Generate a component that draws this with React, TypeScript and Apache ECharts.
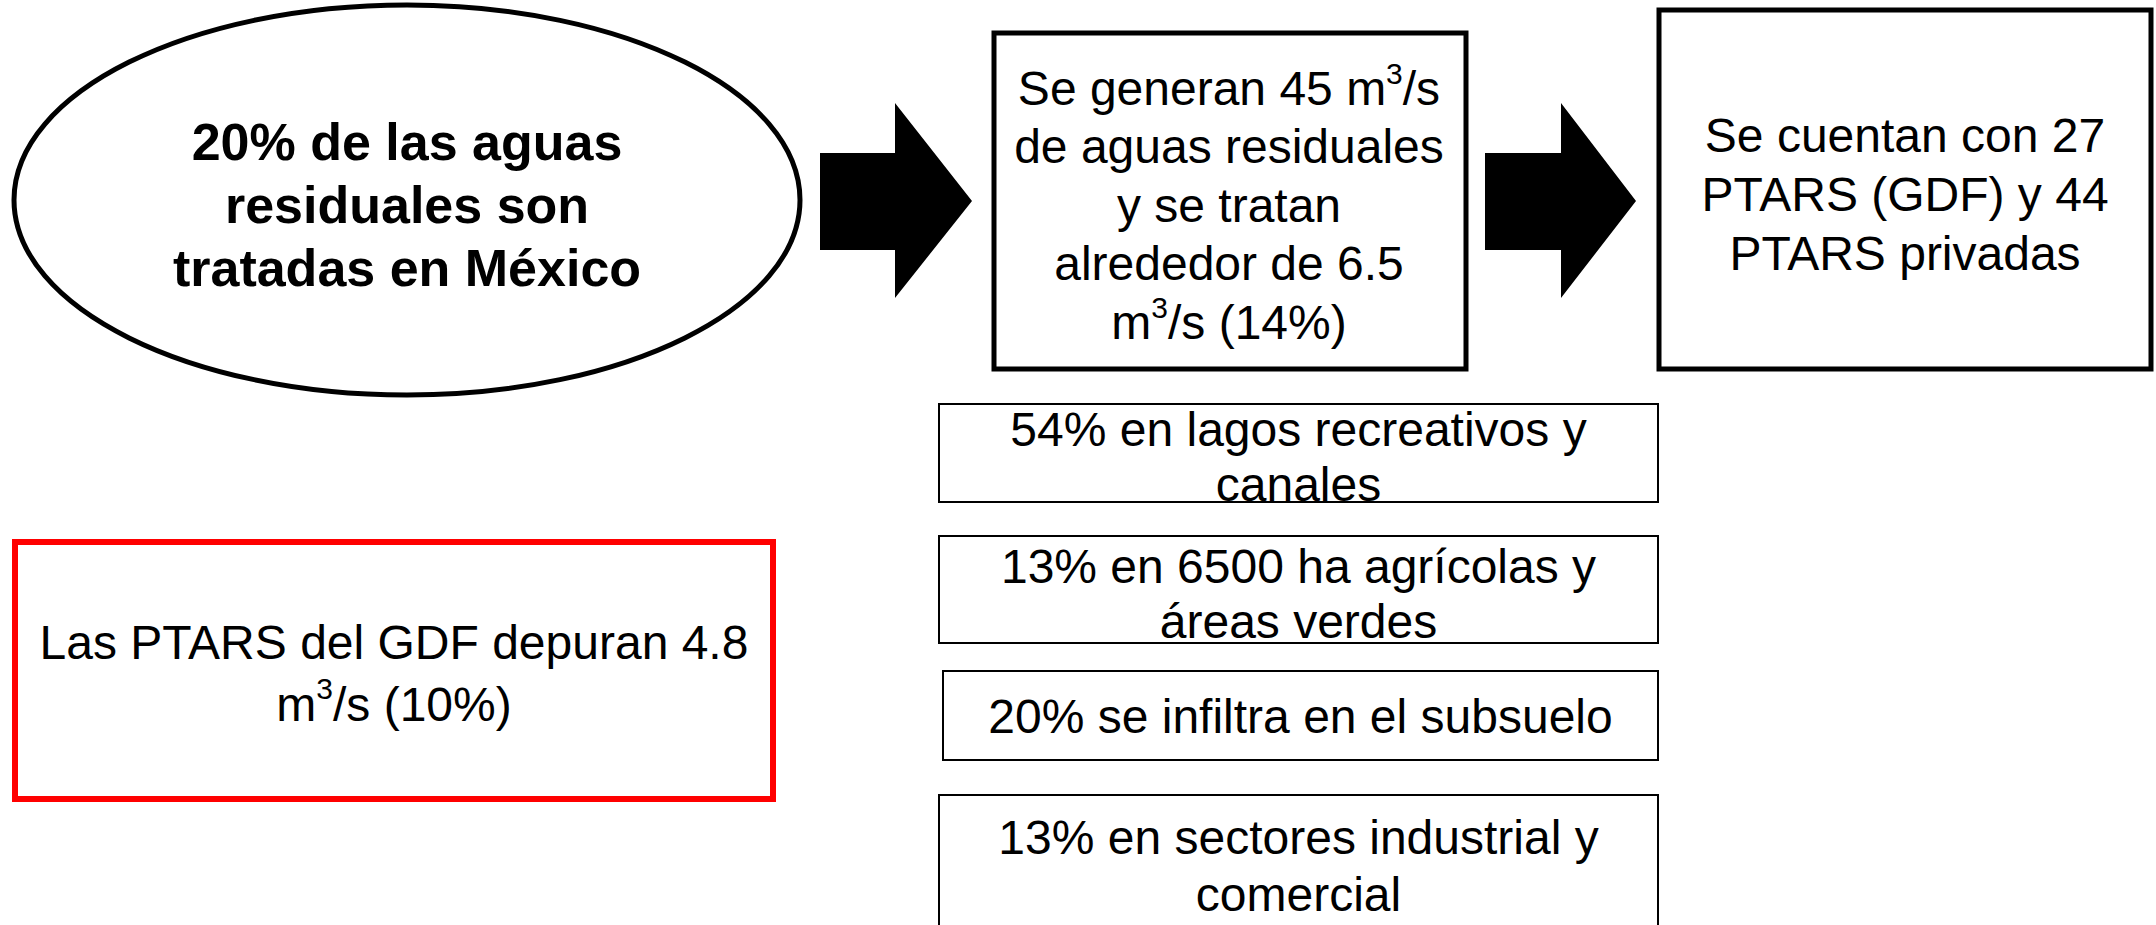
import React, { useEffect, useRef } from "react";
import * as echarts from "echarts";

// Texts of the diagram ({sup|3} marks a superscript 3)
const ellipseLines = ["20% de las aguas", "residuales son", "tratadas en México"];
const generatedLines = ["Se generan 45 m{sup|3}/s", "de aguas residuales", "y se tratan", "alrededor de 6.5", "m{sup|3}/s (14%)"];
const plantsLines = ["Se cuentan con 27", "PTARS (GDF) y 44", "PTARS privadas"];
const gdfLines = ["Las PTARS del GDF depuran 4.8", "m{sup|3}/s (10%)"];
const usesLines = [
  ["54% en lagos recreativos y", "canales"],
  ["13% en 6500 ha agrícolas y", "áreas verdes"],
  ["20% se infiltra en el subsuelo"],
  ["13% en sectores industrial y", "comercial"],
];

// Layout (pixels)
const FONT = "'Liberation Sans', Arial, Helvetica, sans-serif";
const useBoxes = [
  { x: 939, y: 404, w: 719, h: 98, cy: 457, lh: 55 },
  { x: 939, y: 536, w: 719, h: 107, cy: 594, lh: 55 },
  { x: 943, y: 671, w: 715, h: 89, cy: 716, lh: 55 },
  { x: 939, y: 795, w: 719, h: 160, cy: 866, lh: 57 },
];

function arrow(x0: number, xh: number, xt: number) {
  return [
    [x0, 153], [xh, 153], [xh, 103], [xt, 201], [xh, 298], [xh, 250], [x0, 250],
  ];
}

function textEl(lines: string[], x: number, y: number, lh: number, size: number, bold = false) {
  return {
    type: "text",
    z: 10,
    style: {
      text: lines.join("\n"),
      x,
      y,
      fill: "#000",
      fontFamily: FONT,
      fontSize: size,
      fontWeight: bold ? "bold" : "normal",
      lineHeight: lh,
      textAlign: "center",
      textVerticalAlign: "middle",
      rich: {
        sup: {
          fontFamily: FONT,
          fontSize: Math.round(size * 0.62),
          lineHeight: Math.round(lh * 0.62),
          verticalAlign: "top",
          fill: "#000",
        },
      },
    },
  };
}

export default function App() {
  const ref = useRef<HTMLDivElement>(null);
  useEffect(() => {
    if (!ref.current) return;
    const chart = echarts.init(ref.current, null, { renderer: "svg" });
    const elements: any[] = [
      { type: "rect", shape: { x: 0, y: 0, width: 2156, height: 925 }, style: { fill: "#fff" }, z: 0 },
      {
        type: "ellipse",
        shape: { cx: 407, cy: 200, rx: 393, ry: 195 },
        style: { fill: "#fff", stroke: "#000", lineWidth: 5 },
        z: 1,
      },
      textEl(ellipseLines, 407, 205, 63, 52, true),
      { type: "polygon", shape: { points: arrow(820, 895, 972) }, style: { fill: "#000" }, z: 1 },
      {
        type: "rect",
        shape: { x: 994, y: 33, width: 472, height: 336 },
        style: { fill: "#fff", stroke: "#000", lineWidth: 5 },
        z: 1,
      },
      textEl(generatedLines, 1229, 205, 58.5, 48),
      { type: "polygon", shape: { points: arrow(1485, 1561, 1636) }, style: { fill: "#000" }, z: 1 },
      {
        type: "rect",
        shape: { x: 1659, y: 10, width: 492, height: 359 },
        style: { fill: "#fff", stroke: "#000", lineWidth: 5 },
        z: 1,
      },
      textEl(plantsLines, 1905, 194, 59, 48),
      {
        type: "rect",
        shape: { x: 15, y: 542, width: 758, height: 257 },
        style: { fill: "#fff", stroke: "#ff0000", lineWidth: 6 },
        z: 1,
      },
      textEl(gdfLines, 394, 673, 62, 48),
    ];
    useBoxes.forEach((b, i) => {
      elements.push({
        type: "rect",
        shape: { x: b.x, y: b.y, width: b.w, height: b.h },
        style: { fill: "#fff", stroke: "#000", lineWidth: 2 },
        z: 1,
      });
      elements.push(textEl(usesLines[i], b.x + b.w / 2, b.cy, b.lh, 48));
    });
    chart.setOption({ animation: false, graphic: { elements } });
    return () => chart.dispose();
  }, []);
  return (
    <div
      ref={ref}
      style={{ position: "fixed", left: 0, top: 0, width: 2156, height: 925, background: "#fff" }}
    />
  );
}
